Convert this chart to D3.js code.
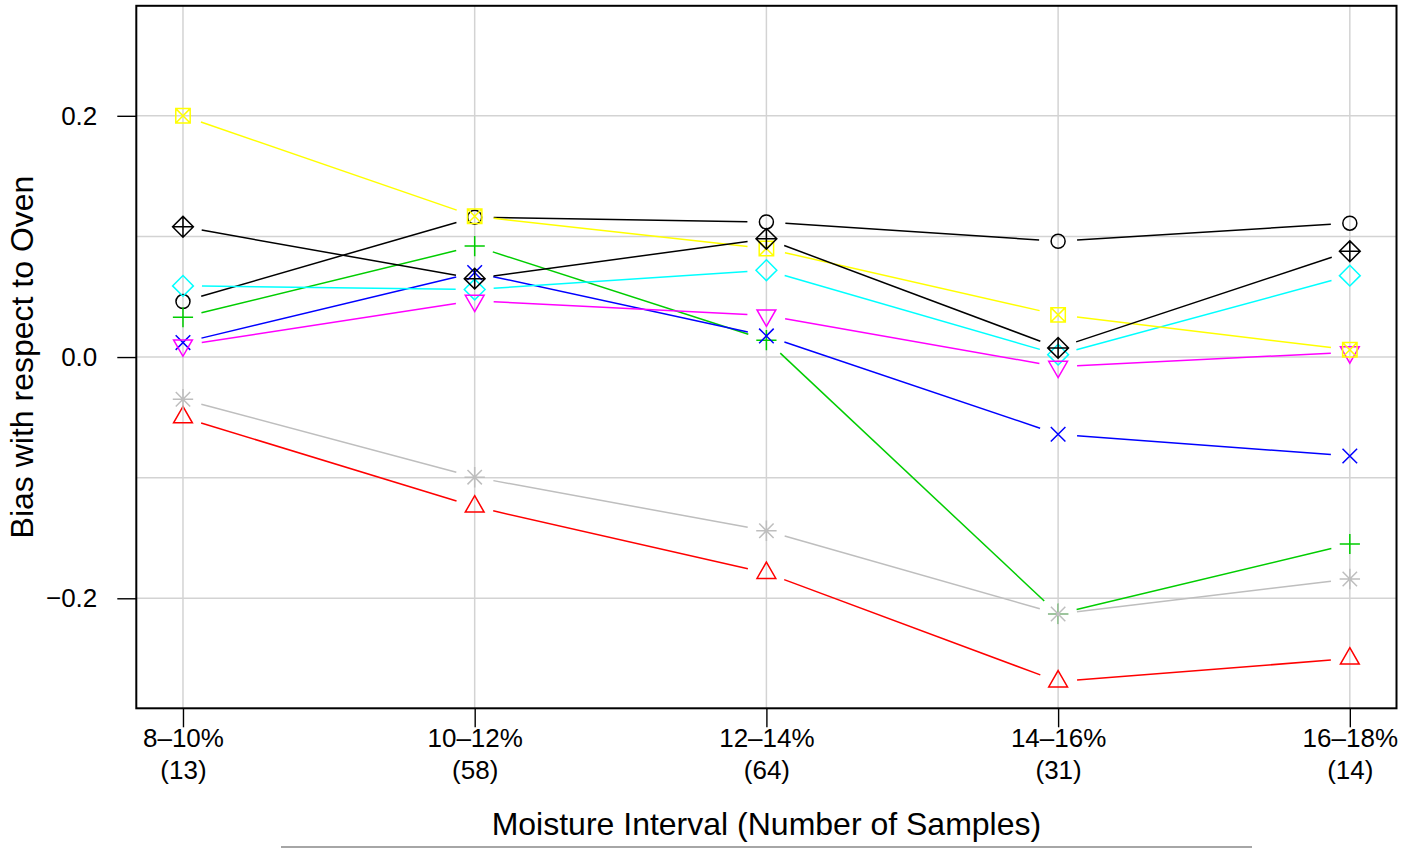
<!DOCTYPE html>
<html><head><meta charset="utf-8">
<script src="https://cdn.jsdelivr.net/npm/d3@7"></script>
<style>
body{margin:0;background:#fff}
text{font-family:"Liberation Sans",Arial,Helvetica,sans-serif;fill:#000}
</style>
</head><body>
<svg id="c" width="1416" height="848"></svg>
<script>
// ---- data ----
const categories = ["8–10%","10–12%","12–14%","14–16%","16–18%"];
const sampleCounts = ["(13)","(58)","(64)","(31)","(14)"];
const yTickValues = [-0.2, 0.0, 0.2];
const yGridValues = [-0.2, -0.1, 0.0, 0.1, 0.2];

const seriesCircle      = [0.046, 0.116, 0.112, 0.096, 0.111];
const seriesTriangle    = [-0.050, -0.124, -0.179, -0.269, -0.250];
const seriesPlus        = [0.033, 0.092, 0.014, -0.213, -0.155];
const seriesCross       = [0.012, 0.070, 0.0175, -0.064, -0.082];
const seriesDiamond     = [0.059, 0.056, 0.072, 0.002, 0.0675];
const seriesTriDown     = [0.0097, 0.0467, 0.0345, -0.008, 0.004];
const seriesSquareX     = [0.200, 0.1167, 0.090, 0.035, 0.006];
const seriesAsterisk    = [-0.035, -0.0996, -0.144, -0.213, -0.184];
const seriesDiamondPlus = [0.108, 0.065, 0.098, 0.0076, 0.0877];

const seriesValues = [seriesCircle, seriesTriangle, seriesPlus, seriesCross, seriesDiamond,
                      seriesTriDown, seriesSquareX, seriesAsterisk, seriesDiamondPlus];
const seriesColors = ["#000000","#FF0000","#00CD00","#0000FF","#00FFFF","#FF00FF","#FFFF00","#BEBEBE","#000000"];
const seriesShapes = ["circle","triangle","plus","cross","diamond","triangleDown","squareX","asterisk","diamondPlus"];

// ---- layout ----
const svg = d3.select("#c");
const L = 136.3, R = 1396.5, T = 5.8, B = 708.3;
const x = d3.scaleLinear().domain([-0.16, 4.16]).range([L, R]);
const y = d3.scaleLinear().domain([-0.2912, 0.2912]).range([B, T]);

// grid
const grid = svg.append("g").attr("stroke", "#D3D3D3").attr("stroke-width", 1.5);
grid.selectAll("line.v").data(categories).enter().append("line")
  .attr("x1", (d,i)=>x(i)).attr("x2", (d,i)=>x(i)).attr("y1", T).attr("y2", B);
grid.selectAll("line.h").data(yGridValues).enter().append("line")
  .attr("x1", L).attr("x2", R).attr("y1", d=>y(d)).attr("y2", d=>y(d));

// symbols
function symPath(shape){
  const p = d3.path();
  switch(shape){
    case "circle": { const r=7.0; p.moveTo(r,0); p.arc(0,0,r,0,2*Math.PI); p.closePath(); break; }
    case "triangle": { const hw=9.4, top=-10.9, bot=5.45; p.moveTo(0,top); p.lineTo(hw,bot); p.lineTo(-hw,bot); p.closePath(); break; }
    case "triangleDown": { const hw=9.4, top=-5.45, bot=10.9; p.moveTo(0,bot); p.lineTo(hw,top); p.lineTo(-hw,top); p.closePath(); break; }
    case "plus": { const a=10.1; p.moveTo(-a,0); p.lineTo(a,0); p.moveTo(0,-a); p.lineTo(0,a); break; }
    case "cross": { const a=7.3; p.moveTo(-a,-a); p.lineTo(a,a); p.moveTo(-a,a); p.lineTo(a,-a); break; }
    case "diamond": { const a=10.4; p.moveTo(0,-a); p.lineTo(a,0); p.lineTo(0,a); p.lineTo(-a,0); p.closePath(); break; }
    case "squareX": { const a=7.2; p.rect(-a,-a,2*a,2*a); p.moveTo(-a,-a); p.lineTo(a,a); p.moveTo(-a,a); p.lineTo(a,-a); break; }
    case "asterisk": { const a=10.2, b=7.2; p.moveTo(-a,0); p.lineTo(a,0); p.moveTo(0,-a); p.lineTo(0,a);
                       p.moveTo(-b,-b); p.lineTo(b,b); p.moveTo(-b,b); p.lineTo(b,-b); break; }
    case "diamondPlus": { const a=10.4; p.moveTo(0,-a); p.lineTo(a,0); p.lineTo(0,a); p.lineTo(-a,0); p.closePath();
                          p.moveTo(-a,0); p.lineTo(a,0); p.moveTo(0,-a); p.lineTo(0,a); break; }
  }
  return p.toString();
}

const gap = 19;
seriesValues.forEach((vals, si) => {
  const g = svg.append("g").attr("stroke", seriesColors[si]).attr("stroke-width", 1.5).attr("fill", "none");
  const pts = vals.map((v,i)=>[x(i), y(v)]);
  const segs = [];
  for (let i=0;i<pts.length-1;i++){
    const [x1,y1]=pts[i], [x2,y2]=pts[i+1];
    const dx=x2-x1, dy=y2-y1, d=Math.hypot(dx,dy);
    if (d > 2*gap) segs.push([x1+dx*gap/d, y1+dy*gap/d, x2-dx*gap/d, y2-dy*gap/d]);
  }
  g.selectAll("line").data(segs).enter().append("line")
    .attr("x1",d=>d[0]).attr("y1",d=>d[1]).attr("x2",d=>d[2]).attr("y2",d=>d[3]);
  g.selectAll("path").data(pts).enter().append("path")
    .attr("d", symPath(seriesShapes[si]))
    .attr("transform", d=>`translate(${d[0]},${d[1]})`);
});

// box
svg.append("rect").attr("x", L).attr("y", T).attr("width", R-L).attr("height", B-T)
  .attr("fill","none").attr("stroke","#000").attr("stroke-width",2);

// y axis
const yAxis = d3.axisLeft(y).tickValues(yTickValues).tickSize(19).tickPadding(20)
  .tickFormat(d3.format(".1f"));
const ya = svg.append("g").attr("transform", `translate(${L},0)`).call(yAxis);
ya.select(".domain").remove();
ya.selectAll("line").attr("stroke","#000").attr("stroke-width",1.4);
ya.selectAll("text").attr("font-size", 26).attr("font-family", "Liberation Sans, Arial, sans-serif")
  .text(d => d < 0 ? "\u2212" + d3.format(".1f")(-d) : d3.format(".1f")(d));

// x axis
const xAxis = d3.axisBottom(x).tickValues(d3.range(categories.length)).tickSize(19).tickFormat(i=>categories[i]);
const xa = svg.append("g").attr("transform", `translate(0,${B})`).call(xAxis);
xa.select(".domain").remove();
xa.selectAll("line").attr("stroke","#000").attr("stroke-width",1.4);
xa.selectAll("text").attr("font-size", 26).attr("font-family", "Liberation Sans, Arial, sans-serif")
  .attr("y", 38.7).attr("dy", null);
xa.selectAll(".tick").append("text")
  .attr("font-size", 26).attr("font-family", "Liberation Sans, Arial, sans-serif")
  .attr("fill", "#000").attr("text-anchor","middle").attr("y", 70.7)
  .text(i => sampleCounts[i]);

// titles
svg.append("text").attr("x", (L+R)/2).attr("y", 835).attr("text-anchor","middle")
  .attr("font-size", 32).text("Moisture Interval (Number of Samples)");
svg.append("text").attr("transform", `translate(33,${(T+B)/2}) rotate(-90)`).attr("text-anchor","middle")
  .attr("font-size", 32).text("Bias with respect to Oven");

// bottom grey rule
svg.append("line").attr("x1", 281).attr("x2", 1252).attr("y1", 847).attr("y2", 847)
  .attr("stroke", "#888").attr("stroke-width", 1.5);
</script>
</body></html>
